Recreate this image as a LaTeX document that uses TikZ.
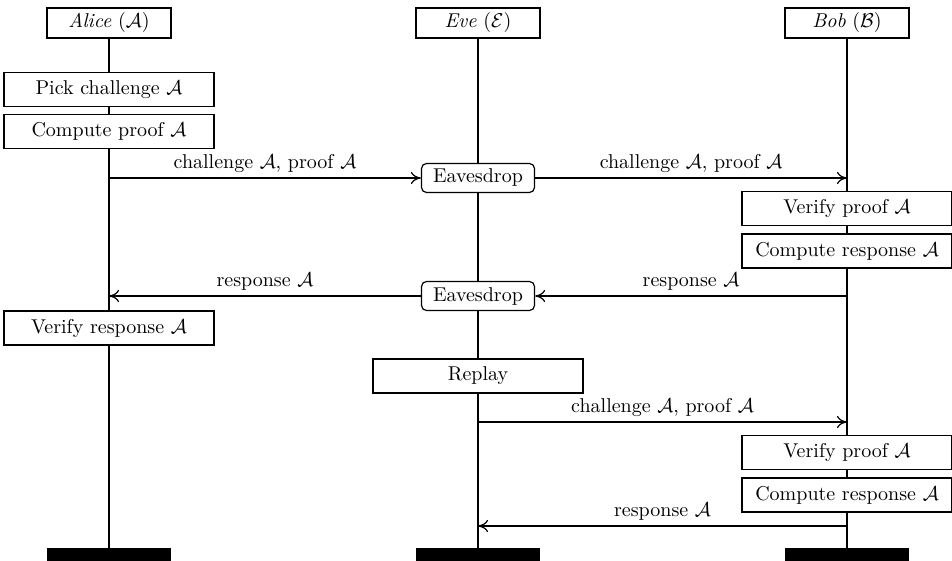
\documentclass[tikz,border=0pt]{standalone}
\usetikzlibrary{backgrounds,arrows.meta}
\begin{document}
\begin{tikzpicture}[x=0.5pt,y=-0.5pt,
  actor/.style={draw, fill=white, line width=0.6pt, minimum width=62pt, minimum height=15pt, inner sep=0pt},
  action/.style={draw, fill=white, line width=0.6pt, minimum width=105pt, minimum height=17pt, inner sep=0pt},
  tap/.style={draw, fill=white, rounded corners=2.5pt, line width=0.6pt, minimum width=56.5pt, minimum height=14.5pt, inner sep=0pt},
  endbar/.style={fill=black, minimum width=62pt, minimum height=6.5pt, inner sep=0pt},
  life/.style={line width=0.6pt},
  msg/.style={-{Computer Modern Rightarrow[length=5pt,width=6pt]}, line width=0.6pt},
  lbl/.style={above, inner sep=2.5pt}]
\useasboundingbox (0,0) rectangle (952,561);

% participants
\node[actor] (alice) at (109,23) {\textit{Alice} ($\mathcal{A}$)};
\node[actor] (eve)   at (478,23) {\textit{Eve} ($\mathcal{E}$)};
\node[actor] (bob)   at (847,23) {\textit{Bob} ($\mathcal{B}$)};

% end of lifelines
\node[endbar] (alicebar) at (109,554.5) {};
\node[endbar] (evebar)   at (478,554.5) {};
\node[endbar] (bobbar)   at (847,554.5) {};

% Alice's steps
\node[action] (pick)    at (109,89.5) {Pick challenge $\mathcal{A}$};
\node[action] (proof)   at (109,131.5) {Compute proof $\mathcal{A}$};
\node[action] (vresp)   at (109,328) {Verify response $\mathcal{A}$};

% Eve's steps
\node[tap] (ev1) at (478,178) {Eavesdrop};
\node[tap] (ev2) at (478,296) {Eavesdrop};
\node[action] (replay) at (478,376) {Replay};

% Bob's steps
\node[action] (bverify1) at (847,208.5) {Verify proof $\mathcal{A}$};
\node[action] (bresp1)   at (847,251)   {Compute response $\mathcal{A}$};
\node[action] (bverify2) at (847,452.5) {Verify proof $\mathcal{A}$};
\node[action] (bresp2)   at (847,495)   {Compute response $\mathcal{A}$};

% lifelines behind the boxes
\begin{scope}[on background layer]
  \draw[life] (alice) -- (alicebar);
  \draw[life] (eve) -- (evebar);
  \draw[life] (bob) -- (bobbar);
\end{scope}

% message end points on the lifelines
\coordinate (a1) at (109,178);
\coordinate (b1) at (847,178);
\coordinate (b2) at (847,296);
\coordinate (a2) at (109,296);
\coordinate (e3) at (478,422);
\coordinate (b3) at (847,422);
\coordinate (b4) at (847,526);
\coordinate (e4) at (478,526);

% messages
\draw[msg] (a1) -- (ev1) node[lbl, midway] {challenge $\mathcal{A}$, proof $\mathcal{A}$};
\draw[msg] (ev1) -- (b1) node[lbl, midway] {challenge $\mathcal{A}$, proof $\mathcal{A}$};
\draw[msg] (b2) -- (ev2) node[lbl, midway] {response $\mathcal{A}$};
\draw[msg] (ev2) -- (a2) node[lbl, midway] {response $\mathcal{A}$};
\draw[msg] (e3) -- (b3) node[lbl, midway] {challenge $\mathcal{A}$, proof $\mathcal{A}$};
\draw[msg] (b4) -- (e4) node[lbl, midway] {response $\mathcal{A}$};
\end{tikzpicture}
\end{document}
